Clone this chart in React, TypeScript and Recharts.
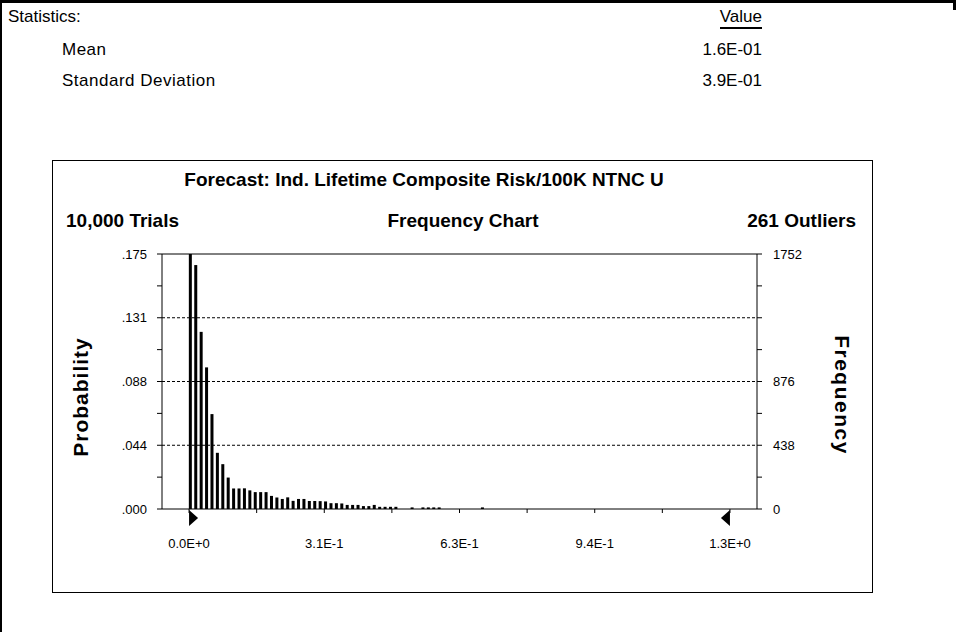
import {
  Bar,
  XAxis,
  YAxis,
  ComposedChart,
  ReferenceLine,
  ReferenceDot,
} from "recharts";

// frequency counts per bin (bin width 0.0125)
const BIN_WIDTH = 0.0125;
const frequencies = [
  1752, 1676, 1217, 973, 652, 386, 308, 216, 141, 141, 142, 128, 116, 116, 116,
  90, 79, 69, 80, 56, 69, 69, 55, 55, 54, 52, 40, 40, 38, 28, 28, 28, 20, 20,
  28, 15, 15, 15, 15, 0, 0, 11, 0, 11, 11, 11, 11, 0, 0, 0, 0, 0, 0, 0, 11,
];

const xTicks = [0, 0.15625, 0.3125, 0.46875, 0.625, 0.78125, 0.9375, 1.09375, 1.25];
const xLabels = ["0.0E+0", "", "3.1E-1", "", "6.3E-1", "", "9.4E-1", "", "1.3E+0"];

const probTicks = [0, 0.021875, 0.04375, 0.065625, 0.0875, 0.109375, 0.13125, 0.153125, 0.175];
const probLabels = [".000", "", ".044", "", ".088", "", ".131", "", ".175"];

const freqTicks = [0, 219, 438, 657, 876, 1095, 1314, 1533, 1752];
const freqLabels = ["0", "", "438", "", "876", "", "", "", "1752"];

const gridLines = [0.04375, 0.0875, 0.13125];

const stats = [
  { name: "Mean", value: "1.6E-01" },
  { name: "Standard Deviation", value: "3.9E-01" },
];

const binData = frequencies.map((f, i) => ({ bin: i * BIN_WIDTH, freq: f }));

const FONT = "'Liberation Sans', Arial, Helvetica, sans-serif";

// bar starts at the bin's left edge
const BinBar = (props: any) => {
  const { x, y, width, height } = props;
  if (!height || height <= 0) return null;
  return <rect x={x + width / 2} y={y} width={width} height={height} fill="#000" />;
};

const RightMarker = (props: any) => {
  const { cx, cy } = props;
  return <polygon points={`${cx},${cy + 1} ${cx},${cy + 17} ${cx + 9},${cy + 9}`} fill="#000" />;
};

const LeftMarker = (props: any) => {
  const { cx, cy } = props;
  return <polygon points={`${cx},${cy + 1} ${cx},${cy + 17} ${cx - 9},${cy + 9}`} fill="#000" />;
};

const abs = (extra: React.CSSProperties): React.CSSProperties => ({
  position: "absolute",
  whiteSpace: "nowrap",
  ...extra,
});

export default function App() {
  const tickStyle = { fontSize: 13, fill: "#000", fontFamily: FONT };
  return (
    <div
      style={{
        position: "absolute",
        left: 0,
        top: 0,
        width: 956,
        height: 632,
        background: "#fff",
        overflow: "hidden",
        fontFamily: FONT,
        color: "#000",
      }}
    >
      {/* page frame */}
      <div style={abs({ left: 0, top: 0, width: 956, height: 3, background: "#000" })} />
      <div style={abs({ left: 0, top: 0, width: 2, height: 632, background: "#000" })} />
      <div style={abs({ left: 953, top: 0, width: 3, height: 10, background: "#000" })} />

      {/* statistics block */}
      <div style={abs({ left: 8, top: 7, fontSize: 17, lineHeight: "20px" })}>Statistics:</div>
      <div
        style={abs({
          right: 956 - 762,
          top: 7,
          fontSize: 17,
          lineHeight: "20px",
          borderBottom: "2px solid #000",
        })}
      >
        Value
      </div>
      {stats.map((s, i) => (
        <div key={s.name}>
          <div style={abs({ left: 62, top: 40 + i * 31, fontSize: 17, lineHeight: "20px", letterSpacing: 0.5 })}>
            {s.name}
          </div>
          <div style={abs({ right: 956 - 762, top: 40 + i * 31, fontSize: 17, lineHeight: "20px" })}>
            {s.value}
          </div>
        </div>
      ))}

      {/* chart frame */}
      <div
        style={abs({
          left: 52,
          top: 160,
          width: 821,
          height: 433,
          border: "1px solid #000",
          boxSizing: "border-box",
        })}
      />
      <div
        style={abs({
          left: 424,
          top: 180,
          transform: "translate(-50%, -50%)",
          fontSize: 19,
          fontWeight: "bold",
        })}
      >
        Forecast: Ind. Lifetime Composite Risk/100K NTNC U
      </div>
      <div style={abs({ left: 66, top: 221, transform: "translateY(-50%)", fontSize: 19, fontWeight: "bold" })}>
        10,000 Trials
      </div>
      <div
        style={abs({ left: 463, top: 221, transform: "translate(-50%, -50%)", fontSize: 19, fontWeight: "bold" })}
      >
        Frequency Chart
      </div>
      <div
        style={abs({ right: 956 - 856, top: 221, transform: "translateY(-50%)", fontSize: 19, fontWeight: "bold" })}
      >
        261 Outliers
      </div>

      <div style={abs({ left: 52, top: 160 })}>
        <ComposedChart
          width={820}
          height={432}
          data={binData}
          margin={{ top: 94, right: 65, bottom: 43, left: 60 }}
        >
          <XAxis
            dataKey="bin"
            type="number"
            domain={[-0.0625, 1.3125]}
            allowDataOverflow
            ticks={xTicks}
            interval={0}
            tickFormatter={(_v: number, i: number) => xLabels[i]}
            tickSize={4}
            tickMargin={26}
            height={40}
            axisLine={{ stroke: "#000" }}
            tickLine={{ stroke: "#000" }}
            tick={tickStyle}
          />
          <YAxis
            yAxisId="prob"
            orientation="left"
            type="number"
            domain={[0, 0.175]}
            allowDataOverflow
            ticks={probTicks}
            interval={0}
            tickFormatter={(_v: number, i: number) => probLabels[i]}
            width={50}
            tickSize={5}
            tickMargin={10}
            axisLine={{ stroke: "#000" }}
            tickLine={{ stroke: "#000" }}
            tick={tickStyle}
          />
          <YAxis
            yAxisId="freq"
            orientation="right"
            type="number"
            domain={[0, 1752]}
            allowDataOverflow
            ticks={freqTicks}
            interval={0}
            tickFormatter={(_v: number, i: number) => freqLabels[i]}
            width={50}
            tickSize={5}
            tickMargin={11}
            axisLine={{ stroke: "#000" }}
            tickLine={{ stroke: "#000" }}
            tick={tickStyle}
          />
          {gridLines.map((v) => (
            <ReferenceLine key={v} yAxisId="prob" y={v} stroke="#000" strokeDasharray="3 2" />
          ))}
          <ReferenceLine yAxisId="prob" y={0.175} stroke="#000" />
          <Bar
            dataKey="freq"
            yAxisId="freq"
            barSize={3}
            fill="#000"
            shape={BinBar}
            isAnimationActive={false}
          />
          <ReferenceDot yAxisId="freq" x={0} y={0} ifOverflow="visible" shape={RightMarker} />
          <ReferenceDot yAxisId="freq" x={1.25} y={0} ifOverflow="visible" shape={LeftMarker} />
        </ComposedChart>
      </div>

      {/* axis titles */}
      <div
        style={abs({
          left: 81,
          top: 397,
          transform: "translate(-50%, -50%) rotate(-90deg)",
          fontSize: 21,
          fontWeight: "bold",
          letterSpacing: 1,
        })}
      >
        Probability
      </div>
      <div
        style={abs({
          left: 842,
          top: 395,
          transform: "translate(-50%, -50%) rotate(90deg)",
          fontSize: 21,
          fontWeight: "bold",
          letterSpacing: 1.5,
        })}
      >
        Frequency
      </div>
    </div>
  );
}
